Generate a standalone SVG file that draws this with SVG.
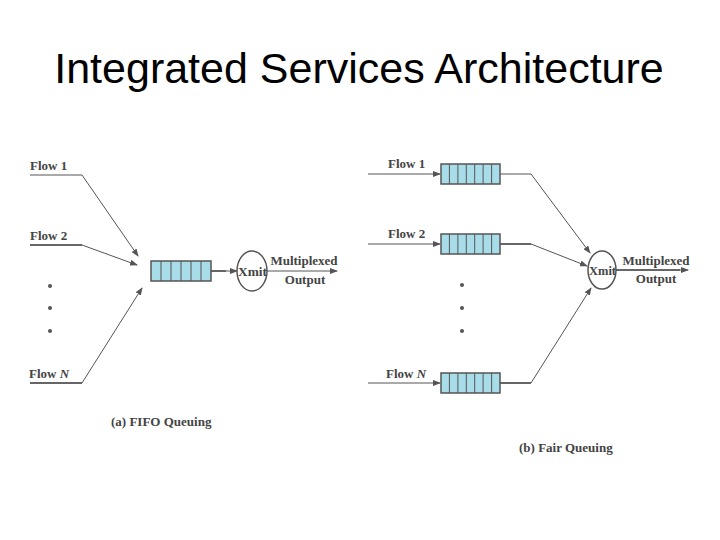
<svg xmlns="http://www.w3.org/2000/svg" width="720" height="540" viewBox="0 0 720 540">
<defs>
<marker id="ah" markerWidth="8" markerHeight="6" refX="7" refY="3" orient="auto" markerUnits="userSpaceOnUse"><path d="M0,0 L8,3 L0,6 z" fill="#555"/></marker>
<g id="q6"><rect x="0" y="0" width="60" height="20" fill="#a8dce8" stroke="#555" stroke-width="1.5"/><path d="M10,0V20M20,0V20M30,0V20M40,0V20M50,0V20" stroke="#555" stroke-width="1"/></g>
<g id="q7"><rect x="0" y="0" width="59" height="20" fill="#a8dce8" stroke="#555" stroke-width="1.5"/><path d="M8.4,0V20M16.9,0V20M25.3,0V20M33.7,0V20M42.1,0V20M50.6,0V20" stroke="#555" stroke-width="1"/></g>
</defs>
<style>
.t{font-family:"Liberation Serif",serif;font-weight:bold;font-size:13px;fill:#444}
.l{fill:none;stroke:#555;stroke-width:1}
.lt{fill:none;stroke:#666;stroke-width:2}
</style>
<rect width="720" height="540" fill="#fff"/>
<text x="359" y="83" text-anchor="middle" font-family="Liberation Sans,Arial,sans-serif" font-size="43" fill="#000">Integrated Services Architecture</text>
<g id="connectors">
<path class="l" d="M30,175H82L138,256" marker-end="url(#ah)"/>
<path class="lt" d="M30,245H82"/><path class="l" d="M82,245L137,265" marker-end="url(#ah)"/>
<path class="lt" d="M30,383H82"/><path class="l" d="M82,383L142,288" marker-end="url(#ah)"/>
<path class="lt" d="M210,271H226"/><path class="l" d="M226,271H237" marker-end="url(#ah)"/>
<path class="l" d="M267,271H337" marker-end="url(#ah)"/>
<path class="l" d="M368,174H440" marker-end="url(#ah)"/>
<path class="l" d="M368,244H440" marker-end="url(#ah)"/>
<path class="l" d="M368,383H440" marker-end="url(#ah)"/>
<path class="l" d="M500,174H531L590,253" marker-end="url(#ah)"/>
<path class="lt" d="M500,244H531"/><path class="l" d="M531,244L587,266" marker-end="url(#ah)"/>
<path class="lt" d="M500,383H531"/><path class="l" d="M531,383L591,288" marker-end="url(#ah)"/>
<path class="lt" d="M616,270H680"/><path class="l" d="M680,270H688" marker-end="url(#ah)"/>
</g>
<g id="left">
<text class="t" x="30" y="170">Flow 1</text>
<text class="t" x="30" y="240">Flow 2</text>
<text class="t" x="29" y="378">Flow <tspan font-style="italic">N</tspan></text>
<g fill="#555"><circle cx="50" cy="286" r="2"/><circle cx="50" cy="308" r="2"/><circle cx="50" cy="331" r="2"/></g>
<use href="#q6" x="151" y="261"/>
<g id="xmit-a"><ellipse cx="252" cy="271" rx="15" ry="20" fill="#fff" stroke="#555" stroke-width="1.5"/><text class="t" x="238" y="276" textLength="29" lengthAdjust="spacingAndGlyphs">Xmit</text></g>
<text class="t" x="304" y="265" text-anchor="middle">Multiplexed</text>
<text class="t" x="305" y="284" text-anchor="middle">Output</text>
<text class="t" x="111" y="426">(a) FIFO Queuing</text>
</g>
<g id="right">
<text class="t" x="388" y="168">Flow 1</text>
<text class="t" x="388" y="238">Flow 2</text>
<text class="t" x="386" y="378">Flow <tspan font-style="italic">N</tspan></text>
<g fill="#555"><circle cx="462" cy="285" r="2"/><circle cx="462" cy="308" r="2"/><circle cx="462" cy="331" r="2"/></g>
<use href="#q7" x="441" y="164"/>
<use href="#q7" x="441" y="234"/>
<use href="#q7" x="441" y="373"/>
<g id="xmit-b"><ellipse cx="602" cy="270" rx="14" ry="19" fill="#fff" stroke="#555" stroke-width="1.5"/><text class="t" x="589" y="275" textLength="27" lengthAdjust="spacingAndGlyphs">Xmit</text></g>
<text class="t" x="656" y="265" text-anchor="middle">Multiplexed</text>
<text class="t" x="656" y="283" text-anchor="middle">Output</text>
<text class="t" x="519" y="452">(b) Fair Queuing</text>
</g>
</svg>
